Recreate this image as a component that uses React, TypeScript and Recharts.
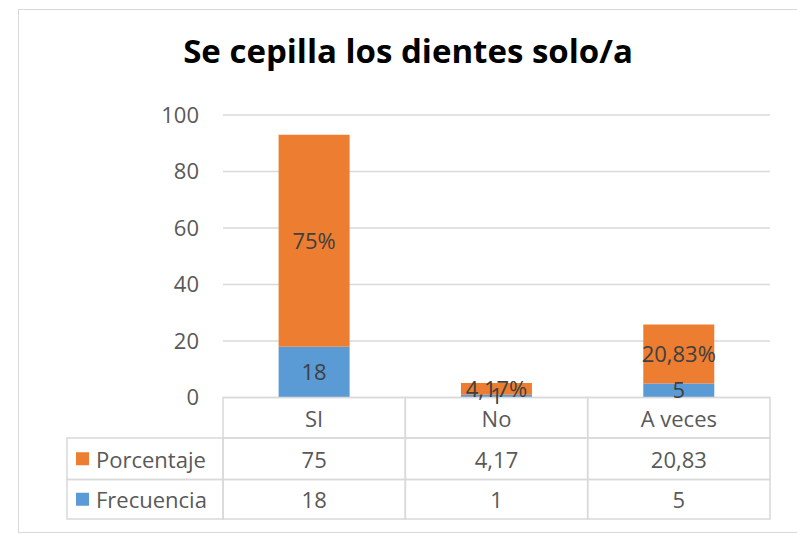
import { Bar, BarChart, CartesianGrid, LabelList, XAxis, YAxis } from "recharts";

const categories = ["SI", "No", "A veces"];
const porcentaje = [75, 4.17, 20.83];
const frecuencia = [18, 1, 5];
const yTicks = [0, 20, 40, 60, 80, 100];

const ORANGE = "#ED7D31";
const BLUE = "#5B9BD5";
const GRID = "#D9D9D9";
const AXIS_TEXT = "#595959";
const FONT = "'Open Sans', 'Noto Sans', sans-serif";

const WIDTH = 797;
const HEIGHT = 534;
const PLOT_LEFT = 223;
const PLOT_RIGHT = 770;
const PLOT_TOP = 115;
const AXIS_Y = 397.5;
const ROW_H = [40.5, 41.5, 39.5];
const TABLE_LEFT = 67;

const data = categories.map((name, i) => ({
  name,
  porcentaje: porcentaje[i],
  frecuencia: frecuencia[i],
}));

const fmtComma = (v: number) => String(v).replace(".", ",");

type TickProps = {
  x?: number;
  y?: number;
  index?: number;
  payload?: { value: string; coordinate: number; index: number };
};

// data table drawn under the axis, one column per category tick
function TableTick(props: TickProps) {
  const { y = AXIS_Y, payload } = props;
  if (!payload) return null;
  const i = payload.index;
  const band = (PLOT_RIGHT - PLOT_LEFT) / categories.length;
  const cx = payload.coordinate;
  const left = cx - band / 2;
  const rows = [
    { text: categories[i] },
    { text: fmtComma(porcentaje[i]) },
    { text: fmtComma(frecuencia[i]) },
  ];
  const legend = [
    { name: "Porcentaje", color: ORANGE },
    { name: "Frecuencia", color: BLUE },
  ];
  let top = y;
  const cells = rows.map((r, k) => {
    const h = ROW_H[k];
    const cell = (
      <g key={k}>
        <rect x={left} y={top} width={band} height={h} fill="none" stroke={GRID} strokeWidth={1.5} />
        <text
          x={cx}
          y={top + h / 2}
          textAnchor="middle"
          dominantBaseline="central"
          fontSize={22}
          fill={AXIS_TEXT}
          fontFamily={FONT}
        >
          {r.text}
        </text>
      </g>
    );
    top += h;
    return cell;
  });

  let legTop = y + ROW_H[0];
  const legendCells =
    i === 0
      ? legend.map((l, k) => {
          const h = ROW_H[k + 1];
          const g = (
            <g key={`l${k}`}>
              <rect
                x={TABLE_LEFT}
                y={legTop}
                width={left - TABLE_LEFT}
                height={h}
                fill="none"
                stroke={GRID}
                strokeWidth={1.5}
              />
              <rect x={TABLE_LEFT + 9} y={legTop + h / 2 - 6.5} width={13} height={13} fill={l.color} />
              <text
                x={TABLE_LEFT + 29}
                y={legTop + h / 2}
                dominantBaseline="central"
                fontSize={22}
                fill={AXIS_TEXT}
                fontFamily={FONT}
              >
                {l.name}
              </text>
            </g>
          );
          legTop += h;
          return g;
        })
      : null;

  return (
    <g>
      {cells}
      {legendCells}
    </g>
  );
}

export default function App() {
  return (
    <div
      style={{
        position: "absolute",
        left: 0,
        top: 0,
        width: WIDTH,
        height: HEIGHT,
        background: "#fff",
        fontFamily: FONT,
        overflow: "hidden",
      }}
    >
      <div
        style={{
          position: "absolute",
          left: 18,
          top: 9,
          width: WIDTH,
          height: HEIGHT - 10,
          border: `1.5px solid ${GRID}`,
          boxSizing: "border-box",
        }}
      />
      <div
        style={{
          position: "absolute",
          left: 0,
          width: 816,
          top: 29,
          lineHeight: "44px",
          textAlign: "center",
          fontSize: 33,
          fontWeight: 700,
          color: "#000",
        }}
      >
        Se cepilla los dientes solo/a
      </div>
      <div style={{ position: "absolute", left: 0, top: 0 }}>
        <BarChart
          width={WIDTH}
          height={HEIGHT}
          data={data}
          margin={{ top: PLOT_TOP, right: WIDTH - PLOT_RIGHT, bottom: 14, left: 0 }}
          barCategoryGap="30.5%"
        >
          <CartesianGrid vertical={false} stroke={GRID} strokeWidth={1.5} />
          <XAxis
            dataKey="name"
            height={HEIGHT - AXIS_Y - 14}
            axisLine={false}
            tickLine={false}
            tickSize={0}
            tickMargin={0}
            interval={0}
            tick={<TableTick />}
          />
          <YAxis
            domain={[0, 100]}
            ticks={yTicks}
            width={PLOT_LEFT}
            axisLine={false}
            tickLine={false}
            tickSize={0}
            tickMargin={24}
            tick={{ fontSize: 22, fill: AXIS_TEXT, fontFamily: FONT }}
          />
          <Bar dataKey="frecuencia" stackId="a" fill={BLUE} isAnimationActive={false}>
            <LabelList
              dataKey="frecuencia"
              position="center"
              formatter={(v: number) => fmtComma(v)}
              style={{ fontSize: 22, fill: "#404040", fontFamily: FONT }}
            />
          </Bar>
          <Bar dataKey="porcentaje" stackId="a" fill={ORANGE} isAnimationActive={false}>
            <LabelList
              dataKey="porcentaje"
              position="center"
              formatter={(v: number) => `${fmtComma(v)}%`}
              style={{ fontSize: 22, fill: "#404040", fontFamily: FONT }}
            />
          </Bar>
        </BarChart>
      </div>
    </div>
  );
}
